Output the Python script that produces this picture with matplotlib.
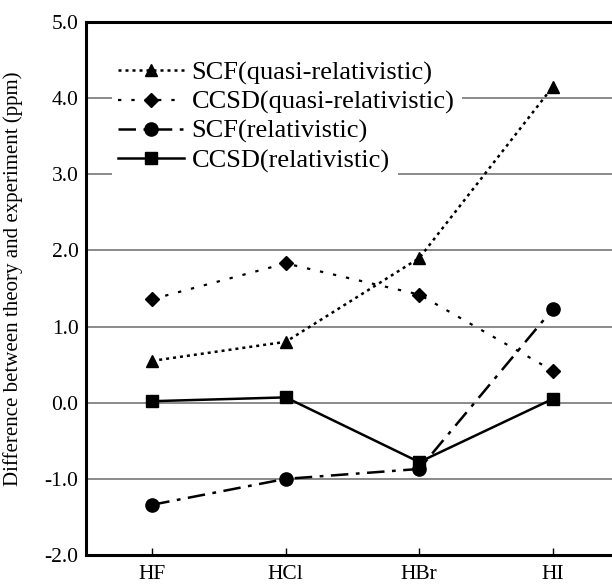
import matplotlib
matplotlib.use("Agg")
import matplotlib.pyplot as plt
from matplotlib.patches import Rectangle

plt.rcParams['font.family'] = ['Liberation Serif', 'DejaVu Serif']

categories = ["HF", "HCl", "HBr", "HI"]
scf_quasi = [0.55, 0.80, 1.90, 4.15]
ccsd_quasi = [1.36, 1.83, 1.42, 0.42]
scf_rel = [-1.34, -1.00, -0.87, 1.23]
ccsd_rel = [0.02, 0.07, -0.78, 0.05]
labels = ["SCF(quasi-relativistic)", "CCSD(quasi-relativistic)",
          "SCF(relativistic)", "CCSD(relativistic)"]
yticks = [-2.0, -1.0, 0.0, 1.0, 2.0, 3.0, 4.0, 5.0]

fig = plt.figure(figsize=(6.12, 5.87), dpi=100)
W, H = 612, 587
left, right, top, bottom = 85.5, 612, 22, 555
ax = fig.add_axes([left / W, 1 - bottom / H, (right - left) / W, (bottom - top) / H])

x = list(range(len(categories)))
ax.plot(x, scf_quasi, color='black', linestyle=(0, (1.2, 1.6)), lw=1.8,
        marker='^', markersize=9, label=labels[0])
ax.plot(x, ccsd_quasi, color='black', linestyle=(0, (1.5, 4.5)), lw=1.6,
        marker='D', markersize=7, label=labels[1])
ax.plot(x, scf_rel, color='black', linestyle=(0, (7, 3, 1.5, 3)), lw=1.8,
        marker='o', markersize=9.5, label=labels[2])
ax.plot(x, ccsd_rel, color='black', linestyle='-', lw=1.8,
        marker='s', markersize=9, label=labels[3])

ax.set_xlim(-0.5, (right - 152.3) / 133.5)
ax.set_ylim(-2.0, 5.0)
ax.set_xticks(x)
ax.set_xticklabels(categories, fontsize=15.5)
ax.set_yticks(yticks)
ax.set_yticklabels([f"{v:.1f}" for v in yticks], fontsize=15.5)
ax.tick_params(axis='y', length=0, pad=5)
ax.tick_params(axis='x', direction='in', length=5, width=1, pad=7)

for v in yticks[1:-1]:
    ax.axhline(v, color='#777777', lw=1.2, zorder=0)

for s in ['left', 'bottom', 'top']:
    ax.spines[s].set_linewidth(2.2)
ax.spines['right'].set_visible(False)

ax.set_ylabel("Difference between theory and experiment (ppm)", fontsize=15)
ax.yaxis.set_label_coords(-0.118, 0.518)

leg = ax.legend(loc='center left', bbox_to_anchor=(0.046, 0.822), frameon=False,
                fontsize=19, handlelength=2.5, handletextpad=0.3,
                labelspacing=0.2, borderpad=0.3, borderaxespad=0)

# white backgrounds behind each legend row (covering grid lines)
fig.canvas.draw()
renderer = fig.canvas.get_renderer()
leg_bb = leg.get_window_extent(renderer)
for t in leg.get_texts():
    bb = t.get_window_extent(renderer)
    cy = (bb.y0 + bb.y1) / 2
    rect = Rectangle((leg_bb.x0 + 2, cy - 16), bb.x1 + 8 - leg_bb.x0 - 2, 32,
                     transform=None, facecolor='white', edgecolor='none', zorder=0.5)
    ax.add_artist(rect)

fig.savefig("out.png", dpi=100)
